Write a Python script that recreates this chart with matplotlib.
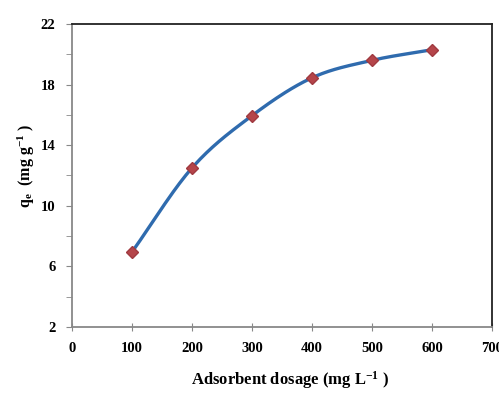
import numpy as np
import matplotlib
matplotlib.use("Agg")
import matplotlib.pyplot as plt

dosage = [100, 200, 300, 400, 500, 600]
qe = [6.95, 12.5, 15.95, 18.45, 19.6, 20.3]
xticks = [0, 100, 200, 300, 400, 500, 600, 700]
yticks = [2, 6, 10, 14, 18, 22]

def catmull(x, y, n=30):
    x = np.asarray(x, float); y = np.asarray(y, float)
    px = np.concatenate([[2*x[0]-x[1]], x, [2*x[-1]-x[-2]]])
    py = np.concatenate([[2*y[0]-y[1]], y, [2*y[-1]-y[-2]]])
    xs, ys = [], []
    t = np.linspace(0, 1, n)
    for i in range(1, len(px)-2):
        for p, out in ((px, xs), (py, ys)):
            p0, p1, p2, p3 = p[i-1], p[i], p[i+1], p[i+2]
            out.extend(0.5*((2*p1) + (-p0+p2)*t + (2*p0-5*p1+4*p2-p3)*t**2 + (-p0+3*p1-3*p2+p3)*t**3))
    return np.array(xs), np.array(ys)

plt.rcParams['font.family'] = ['Liberation Serif', 'DejaVu Serif']
plt.rcParams['mathtext.fontset'] = 'custom'
plt.rcParams['mathtext.rm'] = 'Liberation Serif:bold'
plt.rcParams['mathtext.bf'] = 'Liberation Serif:bold'
plt.rcParams['mathtext.it'] = 'Liberation Serif:bold'
plt.rcParams['mathtext.default'] = 'bf'

fig = plt.figure(figsize=(4.99, 3.95), dpi=100)
ax = fig.add_axes([72/499, 1-327/395, 420/499, 303/395])

sx, sy = catmull(dosage, qe)
ax.plot(sx, sy, color='#2F6BAE', lw=2.4, solid_capstyle='round', zorder=2)
ax.plot(dosage, qe, linestyle='none', marker='D', markersize=6.5,
        color='#B5454A', markeredgecolor='#A03A40', zorder=3)

ax.set_xlim(0, 700)
ax.set_ylim(2, 22)
ax.set_xticks(xticks)
ax.set_yticks(yticks)
ax.set_yticks(np.arange(4, 22, 4), minor=True)
ax.tick_params(axis='y', which='both', direction='out', length=4, color='#888888', pad=8)
ax.tick_params(axis='x', which='both', direction='inout', length=6, color='#888888', pad=8)
for lab in ax.get_xticklabels() + ax.get_yticklabels():
    lab.set_fontweight('bold')
    lab.set_fontsize(10.5)
ax.spines['left'].set_color('#888888')
ax.spines['bottom'].set_color('#888888')
ax.spines['top'].set_color('#222222')
ax.spines['right'].set_color('#222222')
for s in ax.spines.values():
    s.set_linewidth(1.3)

fig.text(290/499, 1-380/395, r'Adsorbent dosage (mg L$^{-1}$ )', ha='center', va='center',
         fontsize=12, fontweight='bold')
fig.text(26/499, 1-166/395, r'q$_{e}$  (mg g$^{-1}$ )', ha='center', va='center',
         rotation=90, fontsize=11.5, fontweight='bold')
fig.savefig('out.png', dpi=100)
